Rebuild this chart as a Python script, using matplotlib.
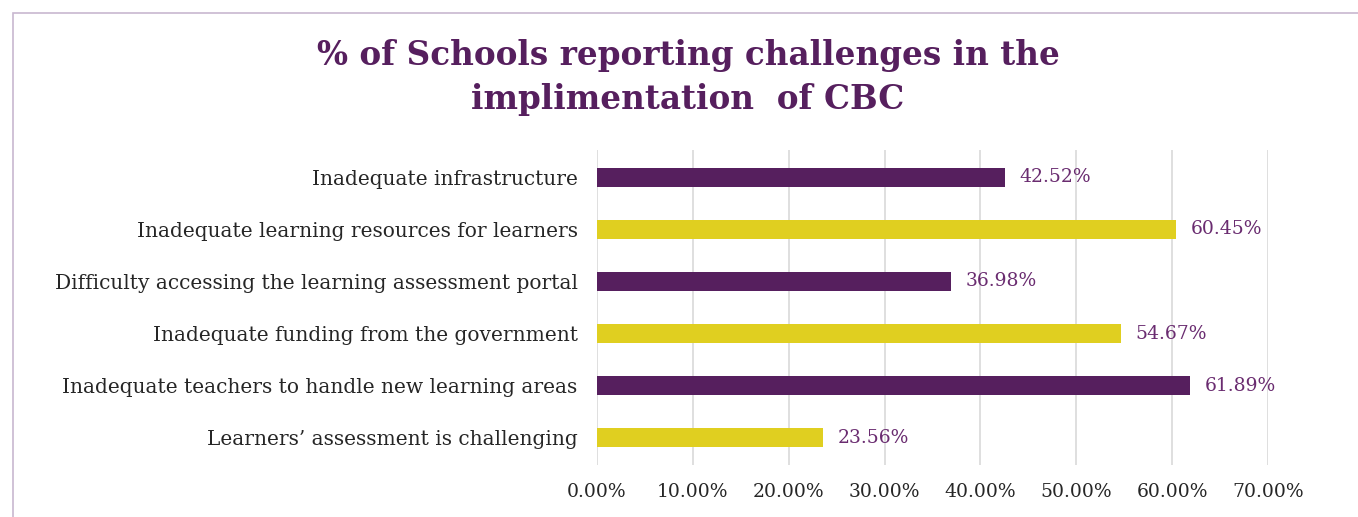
import matplotlib.pyplot as plt
from matplotlib.patches import Rectangle
from matplotlib.ticker import FuncFormatter

# challenges, listed bottom to top
challenges = [
    "Learners\u2019 assessment is challenging",
    "Inadequate teachers to handle new learning areas",
    "Inadequate funding from the government",
    "Difficulty accessing the learning assessment portal",
    "Inadequate learning resources for learners",
    "Inadequate infrastructure",
]
percent = [23.56, 61.89, 54.67, 36.98, 60.45, 42.52]

purple = "#561f5e"
yellow = "#e0cf20"
bar_colors = [yellow, purple, yellow, purple, yellow, purple]
serif = "DejaVu Serif"

W, H = 1358, 517
fig = plt.figure(figsize=(W / 100, H / 100), dpi=100)
ax = fig.add_axes([597 / W, 1 - 465 / H, (1268 - 597) / W, (465 - 150) / H])

y = list(range(len(challenges)))
ax.barh(y, percent, height=0.36, color=bar_colors, zorder=3)

for yi, v in zip(y, percent):
    ax.text(v + 1.5, yi, f"{v:.2f}%", va="center", ha="left",
            fontsize=13.5, color="#6a2c70", family=serif)

ax.set_xlim(0, 70)
ax.set_ylim(-0.52, 5.52)
ax.set_xticks(range(0, 71, 10))
ax.xaxis.set_major_formatter(FuncFormatter(lambda x, p: f"{x:.2f}%"))
ax.set_yticks(y)
ax.set_yticklabels(challenges)
ax.grid(axis="x", color="#d9d9d9", linewidth=1.2, zorder=0)
for s in ax.spines.values():
    s.set_visible(False)
ax.tick_params(axis="both", length=0, labelcolor="#262626")
ax.tick_params(axis="x", pad=13, labelsize=13.5)
ax.tick_params(axis="y", pad=14, labelsize=14.5)
for lab in ax.get_xticklabels() + ax.get_yticklabels():
    lab.set_family(serif)

fig.text(688 / W, 1 - 55 / H, "% of Schools reporting challenges in the",
         ha="center", va="center", fontsize=23.5, fontweight="bold",
         color=purple, family=serif)
fig.text(688 / W, 1 - 100 / H, "implimentation  of CBC",
         ha="center", va="center", fontsize=23.5, fontweight="bold",
         color=purple, family=serif)

# chart frame
fig.patches.append(Rectangle((13 / W, -0.1), 1.2, 1 - 13 / H + 0.1,
                             transform=fig.transFigure, fill=False,
                             edgecolor="#c8b8d0", linewidth=1.2))

fig.savefig("out.png", dpi=100)
